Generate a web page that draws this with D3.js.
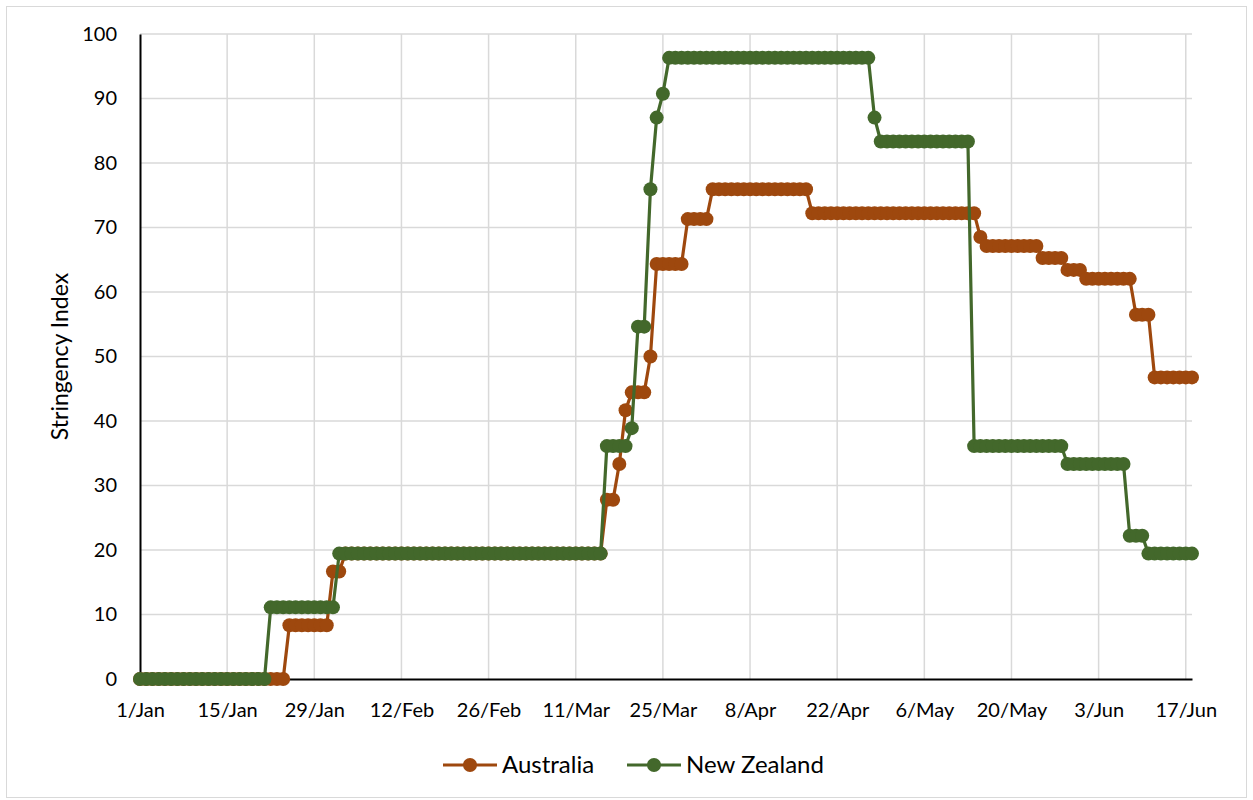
<!DOCTYPE html>
<html>
<head>
<meta charset="utf-8">
<script src="https://cdn.jsdelivr.net/npm/d3@7"></script>
<style>
  html, body { margin: 0; padding: 0; background: #fff; }
  svg { display: block; font-family: Lato, "Open Sans", sans-serif; }
</style>
</head>
<body>
<svg id="chart" width="1253" height="800"></svg>
<script>
// ---- data ----
const startDate = "2020-01-01";   // first daily observation
const seriesNames = ["Australia", "New Zealand"];
const seriesColors = ["#9E480E", "#43682B"];

const australia = [
  0,0,0,0,0,0,0,0,0,0,
  0,0,0,0,0,0,0,0,0,0,
  0,0,0,0,8.33,8.33,8.33,8.33,8.33,8.33,
  8.33,16.67,16.67,19.44,19.44,19.44,19.44,19.44,19.44,19.44,
  19.44,19.44,19.44,19.44,19.44,19.44,19.44,19.44,19.44,19.44,
  19.44,19.44,19.44,19.44,19.44,19.44,19.44,19.44,19.44,19.44,
  19.44,19.44,19.44,19.44,19.44,19.44,19.44,19.44,19.44,19.44,
  19.44,19.44,19.44,19.44,19.44,27.78,27.78,33.33,41.67,44.44,
  44.44,44.44,50,64.35,64.35,64.35,64.35,64.35,71.3,71.3,
  71.3,71.3,75.93,75.93,75.93,75.93,75.93,75.93,75.93,75.93,
  75.93,75.93,75.93,75.93,75.93,75.93,75.93,75.93,72.22,72.22,
  72.22,72.22,72.22,72.22,72.22,72.22,72.22,72.22,72.22,72.22,
  72.22,72.22,72.22,72.22,72.22,72.22,72.22,72.22,72.22,72.22,
  72.22,72.22,72.22,72.22,72.22,68.52,67.13,67.13,67.13,67.13,
  67.13,67.13,67.13,67.13,67.13,65.28,65.28,65.28,65.28,63.43,
  63.43,63.43,62.04,62.04,62.04,62.04,62.04,62.04,62.04,62.04,
  56.48,56.48,56.48,46.76,46.76,46.76,46.76,46.76,46.76,46.76
];

const newZealand = [
  0,0,0,0,0,0,0,0,0,0,
  0,0,0,0,0,0,0,0,0,0,
  0,11.11,11.11,11.11,11.11,11.11,11.11,11.11,11.11,11.11,
  11.11,11.11,19.44,19.44,19.44,19.44,19.44,19.44,19.44,19.44,
  19.44,19.44,19.44,19.44,19.44,19.44,19.44,19.44,19.44,19.44,
  19.44,19.44,19.44,19.44,19.44,19.44,19.44,19.44,19.44,19.44,
  19.44,19.44,19.44,19.44,19.44,19.44,19.44,19.44,19.44,19.44,
  19.44,19.44,19.44,19.44,19.44,36.11,36.11,36.11,36.11,38.89,
  54.63,54.63,75.93,87.04,90.74,96.3,96.3,96.3,96.3,96.3,
  96.3,96.3,96.3,96.3,96.3,96.3,96.3,96.3,96.3,96.3,
  96.3,96.3,96.3,96.3,96.3,96.3,96.3,96.3,96.3,96.3,
  96.3,96.3,96.3,96.3,96.3,96.3,96.3,96.3,87.04,83.33,
  83.33,83.33,83.33,83.33,83.33,83.33,83.33,83.33,83.33,83.33,
  83.33,83.33,83.33,83.33,36.11,36.11,36.11,36.11,36.11,36.11,
  36.11,36.11,36.11,36.11,36.11,36.11,36.11,36.11,36.11,33.33,
  33.33,33.33,33.33,33.33,33.33,33.33,33.33,33.33,33.33,22.22,
  22.22,22.22,19.44,19.44,19.44,19.44,19.44,19.44,19.44,19.44
];

const xTickLabels = ["1/Jan","15/Jan","29/Jan","12/Feb","26/Feb","11/Mar","25/Mar","8/Apr","22/Apr","6/May","20/May","3/Jun","17/Jun"];
const yTicks = [0,10,20,30,40,50,60,70,80,90,100];
const yTitle = "Stringency Index";

// ---- layout ----
const svg = d3.select("#chart");
const W = 1253, H = 800;
const m = { left: 140, right: 61, top: 34, bottom: 121 };
const plotR = W - m.right, plotB = H - m.bottom;

const parse = d3.utcParse("%Y-%m-%d");
const d0 = parse(startDate);
const dates = australia.map((_, i) => d3.utcDay.offset(d0, i));
const tickDates = xTickLabels.map((_, i) => d3.utcDay.offset(d0, i * 14));

const x = d3.scaleUtc().domain([dates[0], dates[dates.length - 1]]).range([m.left, plotR]);
const y = d3.scaleLinear().domain([0, 100]).range([plotB, m.top]);

// outer border
svg.append("rect").attr("x", 6.5).attr("y", 6.5).attr("width", W - 13).attr("height", H - 9)
  .attr("fill", "#fff").attr("stroke", "#d9d9d9").attr("stroke-width", 1);

// gridlines
const grid = svg.append("g");
grid.selectAll("line.h").data(yTicks.filter(d => d > 0)).join("line")
  .attr("x1", m.left).attr("x2", plotR)
  .attr("y1", d => y(d)).attr("y2", d => y(d))
  .attr("stroke", "#d9d9d9").attr("stroke-width", 1.5);
grid.selectAll("line.v").data(tickDates.slice(1)).join("line")
  .attr("x1", d => x(d)).attr("x2", d => x(d))
  .attr("y1", m.top).attr("y2", plotB)
  .attr("stroke", "#d9d9d9").attr("stroke-width", 1.5);

// axes
const yAxis = svg.append("g").attr("transform", `translate(${m.left},0)`)
  .call(d3.axisLeft(y).tickValues(yTicks).tickSize(0).tickPadding(23));
const xAxis = svg.append("g").attr("transform", `translate(0,${plotB})`)
  .call(d3.axisBottom(x).tickValues(tickDates).tickSize(0).tickPadding(24)
    .tickFormat((d, i) => xTickLabels[i]));
[yAxis, xAxis].forEach(g => {
  g.select(".domain").attr("stroke", "#000").attr("stroke-width", 2);
  g.selectAll("text").attr("font-size", 20).attr("fill", "#000").attr("font-family", "Lato, 'Open Sans', sans-serif");
});

svg.append("text").attr("transform", `translate(60,${(m.top + plotB) / 2}) rotate(-90)`)
  .attr("text-anchor", "middle").attr("dy", "0.35em").attr("font-size", 23).attr("fill", "#000").text(yTitle);

// series
const allSeries = [australia, newZealand];
const line = d3.line().x((d, i) => x(dates[i])).y(d => y(d));
allSeries.forEach((vals, k) => {
  const g = svg.append("g");
  g.append("path").datum(vals).attr("d", line).attr("fill", "none")
    .attr("stroke", seriesColors[k]).attr("stroke-width", 3.2).attr("stroke-linejoin", "round");
  g.selectAll("circle").data(vals).join("circle")
    .attr("cx", (d, i) => x(dates[i])).attr("cy", d => y(d)).attr("r", 7)
    .attr("fill", seriesColors[k]);
});

// legend
const legX = [443, 627], legY = 765;
seriesNames.forEach((name, k) => {
  const g = svg.append("g").attr("transform", `translate(${legX[k]},${legY})`);
  g.append("line").attr("x1", 0).attr("x2", 54).attr("y1", 0).attr("y2", 0)
    .attr("stroke", seriesColors[k]).attr("stroke-width", 3.2);
  g.append("circle").attr("cx", 27).attr("cy", 0).attr("r", 7).attr("fill", seriesColors[k]);
  g.append("text").attr("x", 59).attr("y", 0).attr("dy", "0.35em")
    .attr("font-size", 24).attr("fill", "#000").text(name);
});
</script>
</body>
</html>
